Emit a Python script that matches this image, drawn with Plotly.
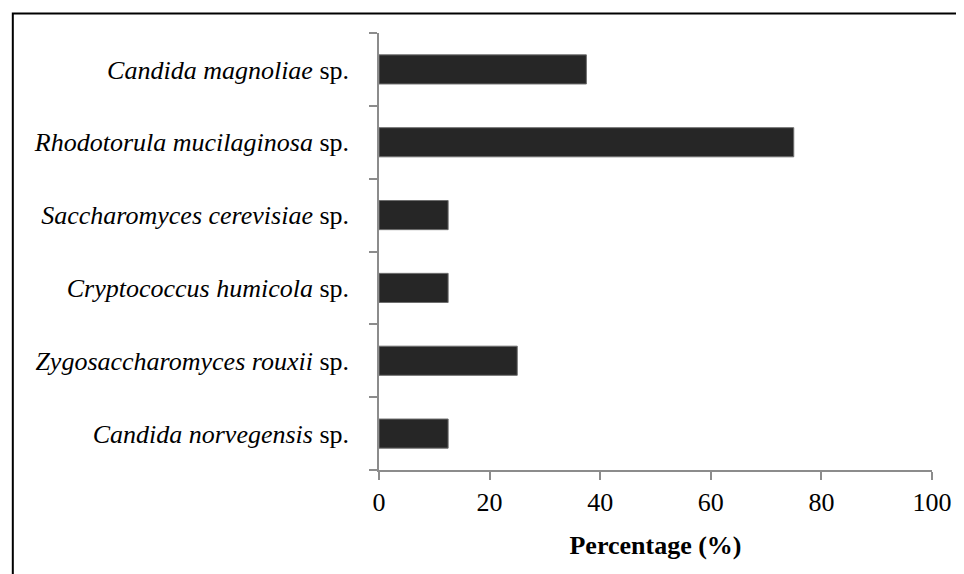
import plotly.graph_objects as go

# categories bottom -> top, with the genus/species part in italics
species = [
    "Candida norvegensis",
    "Zygosaccharomyces rouxii",
    "Cryptococcus humicola",
    "Saccharomyces cerevisiae",
    "Rhodotorula mucilaginosa",
    "Candida magnoliae",
]
percentage = [12.5, 25, 12.5, 12.5, 75, 37.5]
x_ticks = [0, 20, 40, 60, 80, 100]

labels = [f"<i>{s}</i> sp." for s in species]

fig = go.Figure()
fig.add_trace(go.Bar(
    x=percentage, y=labels, orientation="h",
    marker=dict(color="#262626", line=dict(color="#6e6e6e", width=1)),
    width=0.4,
))

# page body has an 8px margin, so the figure is sized to fit the window
W, H = 956, 566
ml, mr, mt, mb = 371, 27, 25, 104
pw, ph = W - ml - mr, H - mt - mb

# outer frame around the whole figure (right/bottom run past the edge)
fig.add_shape(
    type="rect", xref="paper", yref="paper",
    x0=(1.5 - ml) / pw, x1=(970 - ml) / pw,
    y0=(mt + ph - 580) / ph, y1=(mt + ph - 5.5) / ph,
    line=dict(color="black", width=2), fillcolor="rgba(0,0,0,0)",
)

fig.update_layout(
    width=W, height=H,
    margin=dict(l=ml, r=mr, t=mt, b=mb),
    plot_bgcolor="white", paper_bgcolor="white",
    font=dict(family="Liberation Serif", size=26, color="black"),
    showlegend=False,
    xaxis=dict(
        range=[0, 100], tickvals=x_ticks, showgrid=False, zeroline=False,
        showline=True, linecolor="#8c8c8c", linewidth=1.5,
        ticks="outside", ticklen=8, tickcolor="#8c8c8c", tickwidth=1.5,
        ticklabelstandoff=0,
        title=dict(text="<b>Percentage (%)</b>", font=dict(size=26), standoff=20),
    ),
    yaxis=dict(
        type="category", categoryorder="array", categoryarray=labels,
        range=[-0.5, 5.5], showgrid=False, zeroline=False,
        showline=True, linecolor="#8c8c8c", linewidth=1.5,
        ticks="outside", ticklen=8, tickcolor="#8c8c8c", tickwidth=1.5,
        tickson="boundaries", ticklabelstandoff=23,
    ),
)

fig.write_html("out.html")
